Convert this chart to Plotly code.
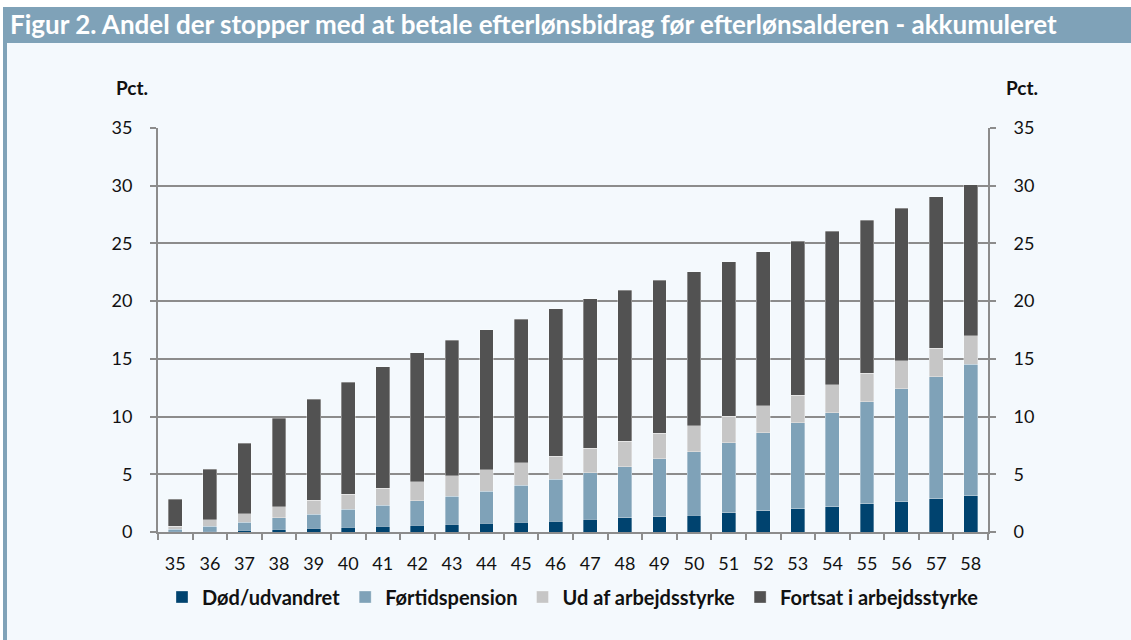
import plotly.graph_objects as go

# ---- data ----
ages = [str(a) for a in range(35, 59)]
dod = [0.05, 0.06, 0.16, 0.25, 0.33, 0.42, 0.50, 0.59, 0.68, 0.77, 0.85, 0.94,
       1.10, 1.24, 1.33, 1.44, 1.65, 1.85, 2.02, 2.19, 2.43, 2.63, 2.89, 3.12]
fortid = [0.20, 0.44, 0.69, 0.98, 1.22, 1.56, 1.83, 2.12, 2.43, 2.78, 3.22, 3.65,
          4.04, 4.42, 5.00, 5.52, 6.09, 6.76, 7.45, 8.15, 8.86, 9.76, 10.57, 11.41]
ud = [0.23, 0.56, 0.73, 0.96, 1.19, 1.31, 1.45, 1.65, 1.75, 1.86, 1.92, 1.98,
      2.11, 2.20, 2.22, 2.25, 2.28, 2.31, 2.37, 2.40, 2.46, 2.46, 2.46, 2.48]
fortsat = [2.37, 4.37, 6.12, 7.65, 8.78, 9.68, 10.52, 11.16, 11.74, 12.11, 12.46, 12.78,
           12.94, 13.08, 13.26, 13.33, 13.39, 13.36, 13.33, 13.30, 13.25, 13.19, 13.11, 13.06]
y_ticks = [0, 5, 10, 15, 20, 25, 30, 35]

series = [
    ("Død/udvandret", dod, "#00436f"),
    ("Førtidspension", fortid, "#7fa2b8"),
    ("Ud af arbejdsstyrke", ud, "#c6c6c6"),
    ("Fortsat i arbejdsstyrke", fortsat, "#525252"),
]

W, H = 1131, 640
L, R, T, B = 158, 143, 128, 108
PW, PH = W - L - R, H - T - B


def xp(px):
    return (px - L) / PW


def yp(py):
    return (H - B - py) / PH


FONT = "Lato"
BG = "#f4f9fd"
BAR_BLUE = "#7fa2b8"
GRID = "#8c8c8c"
TXT = "#111111"

fig = go.Figure()
for name, vals, col in series:
    fig.add_trace(go.Bar(
        x=ages, y=vals, name=name,
        marker=dict(color=col, line=dict(color="rgba(255,255,255,0.55)", width=0.6)),
    ))

# invisible trace to anchor the right-hand axis
fig.add_trace(go.Scatter(x=ages, y=dod, yaxis="y2", mode="markers",
                         marker=dict(opacity=0, size=1), showlegend=False, hoverinfo="skip"))

axis_common = dict(
    showline=True, linecolor=GRID, linewidth=2, zeroline=False,
    ticks="outside", ticklen=6, tickcolor=GRID, tickwidth=2,
    tickfont=dict(size=18, family=FONT, color=TXT), ticklabelstandoff=14,
)

fig.update_layout(
    width=W, height=H,
    barmode="stack", bargap=0.6,
    paper_bgcolor=BG, plot_bgcolor=BG,
    margin=dict(l=L, r=R, t=T, b=B, autoexpand=False),
    font=dict(family=FONT, color=TXT, size=18),
    title=dict(
        text="<b>Figur 2. Andel der stopper med at betale efterlønsbidrag før efterlønsalderen - akkumuleret</b>",
        x=10 / W, xanchor="left", xref="container",
        y=1 - 25 / H, yanchor="middle", yref="container",
        font=dict(family=FONT, size=26, color="#ffffff"),
    ),
    showlegend=True,
    legend=dict(
        orientation="h", x=0.5, xanchor="center", y=yp(597), yanchor="middle",
        font=dict(family=FONT, size=20, color=TXT, weight="bold"),
        traceorder="normal", bgcolor="rgba(0,0,0,0)",
        itemwidth=30, tracegroupgap=0,
    ),
    xaxis=dict(
        type="category", range=[-0.5, len(ages) - 0.5], showgrid=False,
        tickson="boundaries", **axis_common,
    ),
    yaxis=dict(
        range=[0, 35], tickvals=y_ticks, showgrid=True, gridcolor=GRID, gridwidth=1.5,
        **axis_common,
    ),
    yaxis2=dict(
        range=[0, 35], tickvals=y_ticks, overlaying="y", side="right", showgrid=False,
        **axis_common,
    ),
)

shapes = [
    dict(type="rect", xref="paper", yref="paper", x0=xp(0), x1=xp(W), y0=yp(7), y1=yp(0),
         fillcolor="#ffffff", line=dict(width=0), layer="below"),
    dict(type="rect", xref="paper", yref="paper", x0=xp(3), x1=xp(W), y0=yp(43), y1=yp(7),
         fillcolor=BAR_BLUE, line=dict(width=0), layer="below"),
    dict(type="rect", xref="paper", yref="paper", x0=xp(3), x1=xp(7), y0=yp(H), y1=yp(43),
         fillcolor=BAR_BLUE, line=dict(width=0), layer="below"),
    dict(type="rect", xref="paper", yref="paper", x0=xp(0), x1=xp(3), y0=yp(H), y1=yp(0),
         fillcolor="#ffffff", line=dict(width=0), layer="below"),
]
fig.update_layout(shapes=shapes)

for px in (132, 1022):
    fig.add_annotation(text="<b>Pct.</b>", xref="paper", yref="paper", x=xp(px), y=yp(88),
                       xanchor="center", yanchor="middle", showarrow=False,
                       font=dict(family=FONT, size=19, color=TXT))

fig.write_html("out.html", config={"displayModeBar": False},
               post_script="document.body.style.margin='0';")
